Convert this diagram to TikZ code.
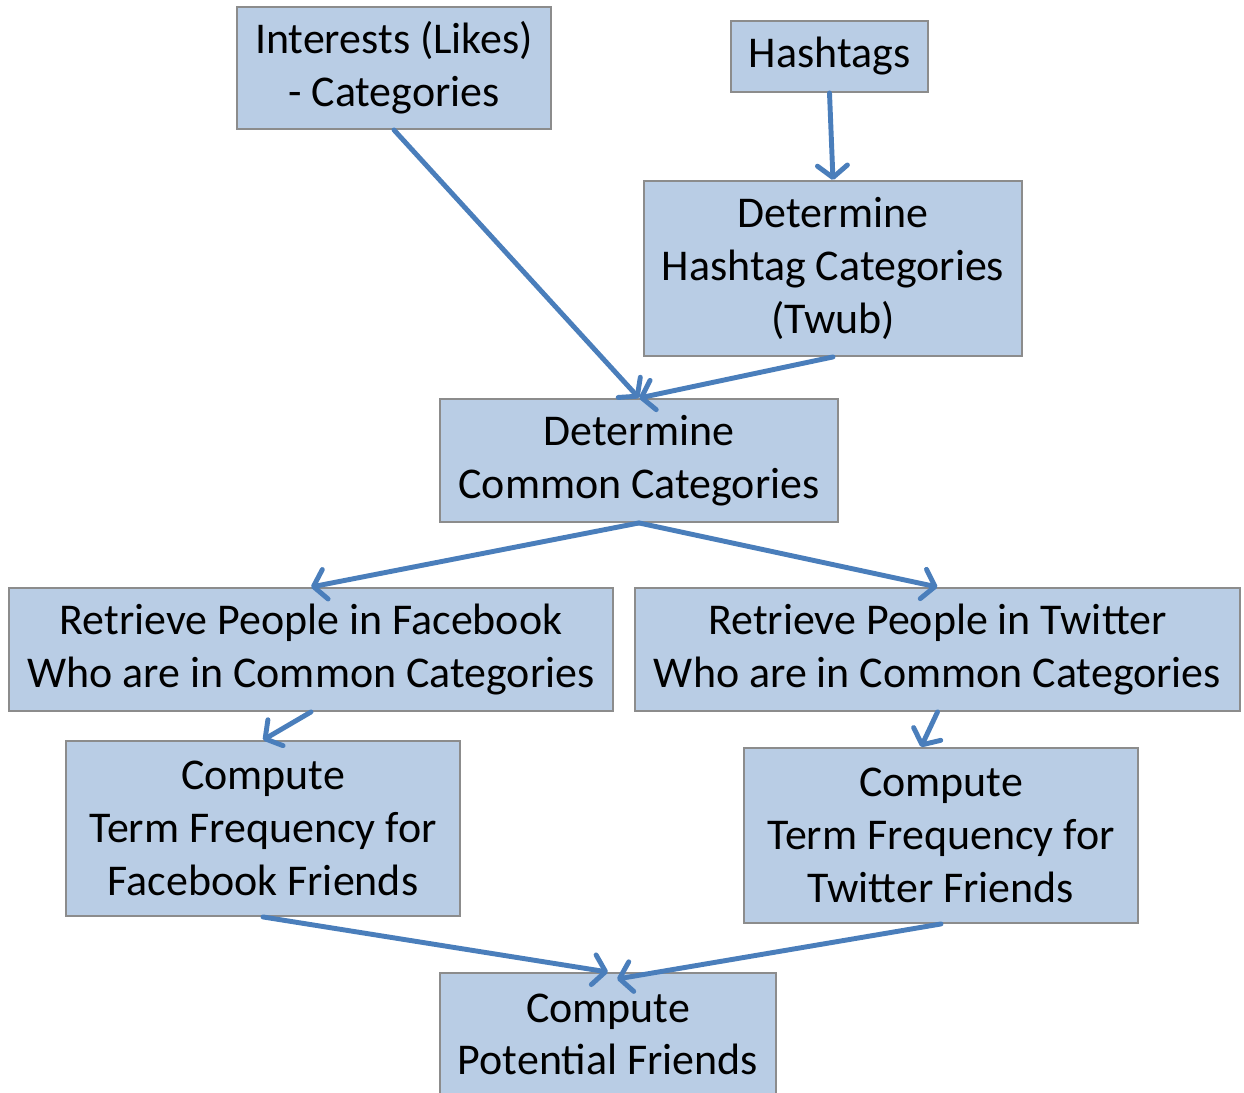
\documentclass[tikz,border=0pt]{standalone}
\usepackage{fontspec}
\setmainfont{Carlito}
\usetikzlibrary{arrows.meta}
\usetikzlibrary{positioning}

\definecolor{boxfill}{HTML}{B9CDE5}
\definecolor{boxline}{HTML}{8C8C8C}
\definecolor{flow}{HTML}{4A7EBB}

\begin{document}
\begin{tikzpicture}
    [every node/.style={draw=boxline, line width=1.1pt, fill=boxfill, align=center,
       inner sep=0pt, font=\fontsize{25}{30}\selectfont},
     flowarrow/.style={draw=flow, line width=2.8pt, line cap=round,
       -{Straight Barb[length=2.4mm, width=6mm, round]}}]
    \useasboundingbox (0,0) rectangle (24.88,21.86);
    \begin{scope}
    \clip (0,0) rectangle (24.88,21.86);
    \node (interests) [minimum width=6.28cm, minimum height=2.44cm] at (7.88,20.5) {Interests (Likes)\\- Categories};
    \node (hashtags) [minimum width=3.94cm, minimum height=1.42cm] at (16.59,20.73) {Hashtags};
    \node (hashcat) [minimum width=7.56cm, minimum height=3.5cm] at (16.66,16.49) {Determine\\Hashtag Categories\\(Twub)};
    \node (common) [minimum width=7.96cm, minimum height=2.46cm] at (12.78,12.65) {Determine\\Common Categories};
    \node (fbret) [minimum width=12.08cm, minimum height=2.46cm] at (6.22,8.87) {Retrieve People in Facebook\\Who are in Common Categories};
    \node (twret) [minimum width=12.1cm, minimum height=2.46cm] at (18.75,8.87) {Retrieve People in Twitter\\Who are in Common Categories};
    \node (fbtf) [minimum width=7.88cm, minimum height=3.5cm] at (5.26,5.29) {Compute\\Term Frequency for\\Facebook Friends};
    \node (twtf) [minimum width=7.88cm, minimum height=3.5cm] at (18.82,5.15) {Compute\\Term Frequency for\\Twitter Friends};
    \node (potential) [minimum width=6.72cm, minimum height=2.46cm] at (12.16,1.17) {Compute\\Potential Friends};
    \end{scope}

    \draw[flowarrow] (hashtags.south) -- (hashcat.north);
    \draw[flowarrow] (interests.south) -- (common.north);
    \draw[flowarrow] (hashcat.south) -- (common.north);
    \draw[flowarrow] (common.south) -- (fbret.north);
    \draw[flowarrow] (common.south) -- (twret.north);
    \draw[flowarrow] (fbret.south) -- (fbtf.north);
    \draw[flowarrow] (twret.south) -- ([xshift=-0.4cm]twtf.north);
    \draw[flowarrow] (fbtf.south) -- (potential.north);
    \draw[flowarrow] (twtf.south) -- ([xshift=0.18cm, yshift=-0.14cm]potential.north);

  \end{tikzpicture}
\end{document}
